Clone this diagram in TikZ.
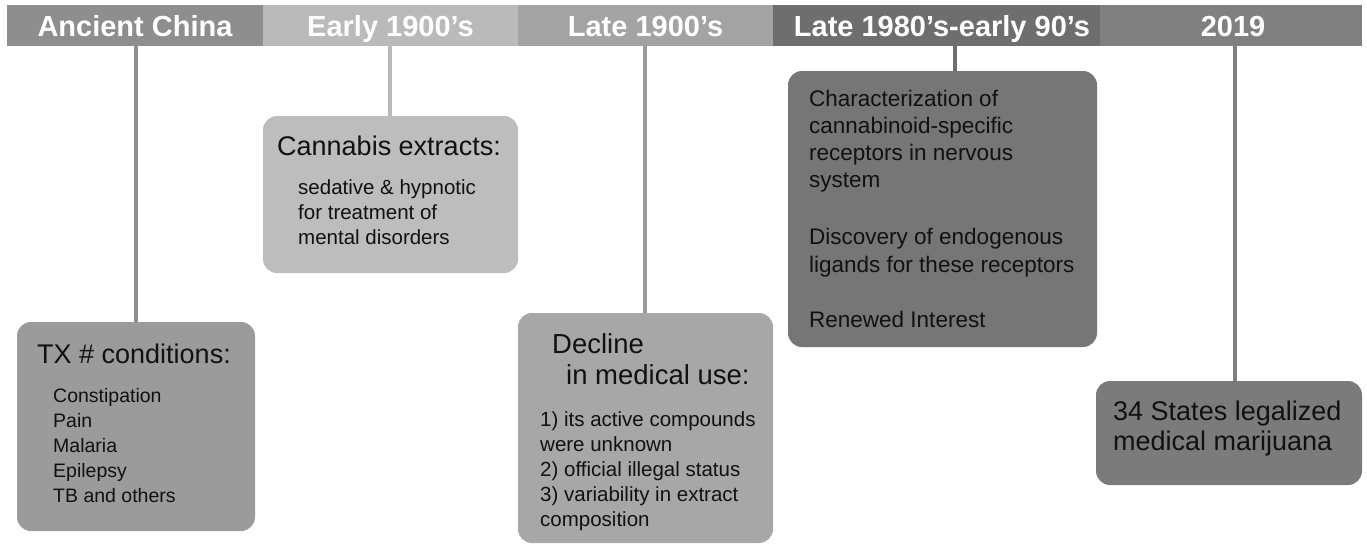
\documentclass[tikz,border=0pt]{standalone}
\usepackage{fontspec}
\setmainfont{Liberation Sans}
\definecolor{hA}{HTML}{8E8E8E}
\definecolor{hB}{HTML}{BABABA}
\definecolor{hC}{HTML}{A3A3A3}
\definecolor{hD}{HTML}{6E6E6E}
\definecolor{hE}{HTML}{808080}
\definecolor{bA}{HTML}{9B9B9B}
\definecolor{bB}{HTML}{BDBDBD}
\definecolor{bC}{HTML}{A7A7A7}
\definecolor{bD}{HTML}{767676}
\definecolor{bE}{HTML}{7B7B7B}
\definecolor{ink}{HTML}{111111}
\newcommand{\mylines}[3]{\parbox[t]{330pt}{\raggedright\fontsize{#1}{#2}\selectfont #3}}
\tikzset{
  hdr/.style={rectangle, inner sep=0pt, minimum height=41pt, text=white,
    font=\fontsize{29}{29}\bfseries\selectfont, text height=21pt, text depth=0pt},
  evbox/.style={rectangle, rounded corners=14pt, inner sep=0pt, draw=none},
  tline/.style={line width=4pt},
  txt/.style={anchor=base west, inner sep=0pt, text=ink},
}
\begin{document}
\begin{tikzpicture}[x=1pt,y=-1pt]
\fill[white] (0,0) rectangle (1367,546);
\useasboundingbox (0,0) rectangle (1367,546);
% header segments
\node[hdr, fill=hA, minimum width=256pt] (hd1) at (135,25.5) {Ancient China};
\node[hdr, fill=hB, minimum width=255pt] (hd2) at (390.5,25.5) {Early 1900’s};
\node[hdr, fill=hC, minimum width=255pt] (hd3) at (645.5,25.5) {Late 1900’s};
\node[hdr, fill=hD, minimum width=327pt] (hd4) at (936.5,25.5) {};
\node[hdr, text=white] (hd4t) at (942,25.5) {Late 1980’s-early 90’s};
\node[hdr, fill=hE, minimum width=262pt] (hd5) at (1231,25.5) {};
\node[hdr, text=white] (hd5t) at (1233,25.5) {2019};
% event boxes
\node[evbox, fill=bA, minimum width=238pt, minimum height=209pt] (bx1) at (136,426.5) {};
\node[evbox, fill=bB, minimum width=255pt, minimum height=157pt] (bx2) at (390.5,194.5) {};
\node[evbox, fill=bC, minimum width=255pt, minimum height=230pt] (bx3) at (645.5,428) {};
\node[evbox, fill=bD, minimum width=309pt, minimum height=276pt] (bx4) at (942.5,209) {};
\node[evbox, fill=bE, minimum width=266pt, minimum height=104pt] (bx5) at (1229,433) {};
% connectors
\coordinate (c1) at (136,0);
\coordinate (c2) at (390,0);
\coordinate (c3) at (645,0);
\coordinate (c4) at (955,0);
\coordinate (c5) at (1235,0);
\draw[tline, draw=hA] (hd1.south -| c1) -- (bx1.north -| c1);
\draw[tline, draw=hB] (hd2.south -| c2) -- (bx2.north -| c2);
\draw[tline, draw=hC!95!black] (hd3.south -| c3) -- (bx3.north -| c3);
\draw[tline, draw=hD] (hd4.south -| c4) -- (bx4.north -| c4);
\draw[tline, draw=hE] (hd5.south -| c5) -- (bx5.north -| c5);
% texts
\node[txt] (t1h) at (37,363) {\fontsize{27}{30}\selectfont TX \# conditions:};
\node[txt] (t1l) at (53,402) {\mylines{19.5}{25}{Constipation\\Pain\\Malaria\\Epilepsy\\TB and others}};
\node[txt] (t2h) at (277,155) {\fontsize{27}{30}\selectfont Cannabis extracts:};
\node[txt] (t2l) at (298,194) {\mylines{20.5}{25}{sedative \& hypnotic\\for treatment of\\mental disorders}};
\node[txt] (t3a) at (552,353) {\fontsize{27.5}{30}\selectfont Decline};
\node[txt] (t3b) at (566,384) {\fontsize{27.5}{30}\selectfont in medical use:};
\node[txt] (t3l) at (540,426) {\mylines{20.5}{25.2}{1) its active compounds\\were unknown\\2) official illegal status\\3) variability in extract\\composition}};
\node[txt] (t4l) at (809,106) {\mylines{22.5}{27.3}{Characterization of\\cannabinoid-specific\\receptors in nervous\\system\\[29.5pt]Discovery of endogenous\\ligands for these receptors\\[28pt]Renewed Interest}};
\node[txt] (t5l) at (1113,420) {\mylines{27}{30}{34 States legalized\\medical marijuana}};
\end{tikzpicture}
\end{document}
